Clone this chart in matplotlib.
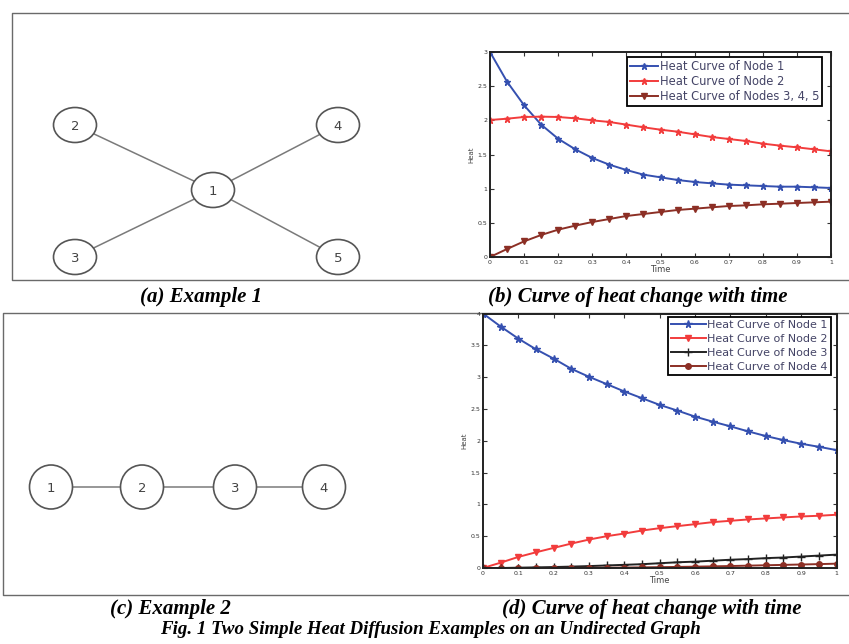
import matplotlib
matplotlib.use("Agg")
import matplotlib.pyplot as plt
from matplotlib.patches import Ellipse
import numpy as np

# ---------------- data ----------------
t = [round(0.05 * i, 2) for i in range(21)]

# Example 1 (star graph)
ex1_node1 = [3.0, 2.566, 2.22, 1.937, 1.73, 1.576, 1.449, 1.351, 1.273, 1.205, 1.166,
             1.127, 1.098, 1.078, 1.059, 1.049, 1.039, 1.029, 1.029, 1.02, 1.01]
ex1_node2 = [2.005, 2.024, 2.049, 2.054, 2.049, 2.029, 2.0, 1.976, 1.937, 1.898, 1.863,
             1.834, 1.795, 1.756, 1.727, 1.698, 1.659, 1.63, 1.605, 1.576, 1.546]
ex1_node345 = [0.0, 0.117, 0.229, 0.322, 0.4, 0.459, 0.512, 0.556, 0.6, 0.629, 0.659,
               0.688, 0.707, 0.727, 0.746, 0.756, 0.771, 0.78, 0.79, 0.8, 0.81]

# Example 2 (path graph)
ex2_node1 = [4.0, 3.795, 3.605, 3.437, 3.29, 3.13, 3.005, 2.89, 2.774, 2.668, 2.563,
             2.474, 2.379, 2.3, 2.226, 2.147, 2.074, 2.01, 1.953, 1.905, 1.853]
ex2_node2 = [0.0, 0.084, 0.174, 0.247, 0.316, 0.384, 0.447, 0.5, 0.542, 0.589, 0.626,
             0.658, 0.689, 0.721, 0.742, 0.763, 0.779, 0.795, 0.81, 0.821, 0.837]
ex2_node3 = [0.0, 0.0, 0.005, 0.01, 0.015, 0.022, 0.03, 0.04, 0.05, 0.06, 0.075,
             0.09, 0.1, 0.115, 0.13, 0.14, 0.155, 0.165, 0.18, 0.195, 0.21]
ex2_node4 = [0.0, 0.0, 0.0, 0.0, 0.001, 0.002, 0.003, 0.005, 0.007, 0.01, 0.013,
             0.017, 0.021, 0.026, 0.031, 0.037, 0.043, 0.049, 0.055, 0.061, 0.068]

labels1 = ["Heat Curve of Node 1", "Heat Curve of Node 2", "Heat Curve of Nodes 3, 4, 5"]
labels2 = ["Heat Curve of Node 1", "Heat Curve of Node 2", "Heat Curve of Node 3", "Heat Curve of Node 4"]

graph1_nodes = {"1": (213, 190), "2": (75, 125), "3": (75, 257), "4": (338, 125), "5": (338, 257)}
graph1_edges = [("1", "2"), ("1", "3"), ("1", "4"), ("1", "5")]
graph2_nodes = {"1": (51, 487), "2": (142, 487), "3": (235, 487), "4": (324, 487)}
graph2_edges = [("1", "2"), ("2", "3"), ("3", "4")]

subcaptions = [
    ("(a) Example 1", 201, 297),
    ("(b) Curve of heat change with time", 638, 297),
    ("(c) Example 2", 170, 609),
    ("(d) Curve of heat change with time", 652, 609),
]
figcaption = ("Fig. 1 Two Simple Heat Diffusion Examples on an Undirected Graph", 430, 629)

W, H = 849, 644
fig = plt.figure(figsize=(W / 100, H / 100), dpi=100)
fig.patch.set_facecolor("white")

# overlay in pixel coordinates
ov = fig.add_axes([0, 0, 1, 1])
ov.set_xlim(0, W)
ov.set_ylim(H, 0)
ov.axis("off")
ov.set_zorder(0)

box_col = "#6a6a6a"
ov.plot([W, 12, 12, W], [12.7, 12.7, 280, 280], color=box_col, lw=1.0)
ov.plot([W, 3, 3, W], [313.3, 313.3, 595, 595], color=box_col, lw=1.0)


def draw_graph(nodes, edges, w, h):
    for a, b in edges:
        (x1, y1), (x2, y2) = nodes[a], nodes[b]
        ov.plot([x1, x2], [y1, y2], color="#7a7a7a", lw=1.1, zorder=1)
    for name, (x, y) in nodes.items():
        ov.add_patch(Ellipse((x, y), w, h, facecolor="white", edgecolor="#555555", lw=1.2, zorder=2))
        ov.text(x, y + 1, name, ha="center", va="center", fontsize=9.5, color="#444444",
                family="DejaVu Sans", zorder=3)


draw_graph(graph1_nodes, graph1_edges, 43, 35)
draw_graph(graph2_nodes, graph2_edges, 43, 44)

for txt, x, y in subcaptions:
    ov.text(x, y, txt, ha="center", va="center", fontsize=15, fontweight="bold",
            fontstyle="italic", family="Liberation Serif", color="black")
ov.text(figcaption[1], figcaption[2], figcaption[0], ha="center", va="center", fontsize=13.6,
        fontweight="bold", fontstyle="italic", family="Liberation Serif", color="black")

blue = "#3550b0"
red = "#f23c3c"
brown = "#8c2f25"
black = "#222222"


def style_axes(ax, ymax):
    ax.set_xlim(0, 1)
    ax.set_ylim(0, ymax)
    ax.set_xticks(np.arange(0, 1.01, 0.1))
    ax.set_xticklabels(["0"] + ["%.1f" % v for v in np.arange(0.1, 0.95, 0.1)] + ["1"])
    yt = np.arange(0, ymax + 0.01, 0.5)
    ax.set_yticks(yt)
    ax.set_yticklabels([("%g" % v) for v in yt])
    ax.tick_params(direction="in", length=3, width=0.8, labelsize=4.5, colors="#333333",
                   top=True, right=True, pad=2)
    for s in ax.spines.values():
        s.set_linewidth(1.4)
        s.set_color("#222222")
    ax.set_xlabel("Time", fontsize=6, labelpad=0.5, color="#444444")
    ax.set_ylabel("Heat", fontsize=5, labelpad=2, color="#444444")


# top-right chart
ax1 = fig.add_axes([490 / W, 1 - 257 / H, (831 - 490) / W, (257 - 52) / H])
ax1.set_zorder(2)
ax1.plot(t, ex1_node1, color=blue, lw=1.4, marker="*", ms=5, label=labels1[0])
ax1.plot(t, ex1_node2, color=red, lw=1.4, marker="*", ms=5, label=labels1[1])
ax1.plot(t, ex1_node345, color=brown, lw=1.4, marker="v", ms=4, label=labels1[2])
style_axes(ax1, 3)
ax1.legend(loc="upper right", bbox_to_anchor=(822 / W, 1 - 57 / H), bbox_transform=fig.transFigure,
           fontsize=8.3, frameon=True, fancybox=False, edgecolor="black", framealpha=1,
           borderaxespad=0, labelspacing=0.2, handlelength=2.4, handletextpad=0.15,
           borderpad=0.25, labelcolor="#444466").get_frame().set_linewidth(1.3)

# bottom-right chart
ax2 = fig.add_axes([483 / W, 1 - 568 / H, (836.5 - 483) / W, (568 - 313.5) / H])
ax2.set_zorder(2)
ax2.plot(t, ex2_node1, color=blue, lw=1.4, marker="*", ms=5.5, label=labels2[0])
ax2.plot(t, ex2_node2, color=red, lw=1.4, marker="v", ms=5, label=labels2[1])
ax2.plot(t, ex2_node3, color=black, lw=1.4, marker="+", ms=6, label=labels2[2])
ax2.plot(t, ex2_node4, color=brown, lw=1.4, marker="o", ms=4, label=labels2[3])
style_axes(ax2, 4)
ax2.legend(loc="upper right", bbox_to_anchor=(831 / W, 1 - 317 / H), bbox_transform=fig.transFigure,
           fontsize=8.0, frameon=True, fancybox=False, edgecolor="black", framealpha=1,
           borderaxespad=0, labelspacing=0.35, handlelength=3.1, handletextpad=0.15,
           borderpad=0.3, labelcolor="#444466").get_frame().set_linewidth(1.3)

fig.savefig("out.png", dpi=100, facecolor="white")
